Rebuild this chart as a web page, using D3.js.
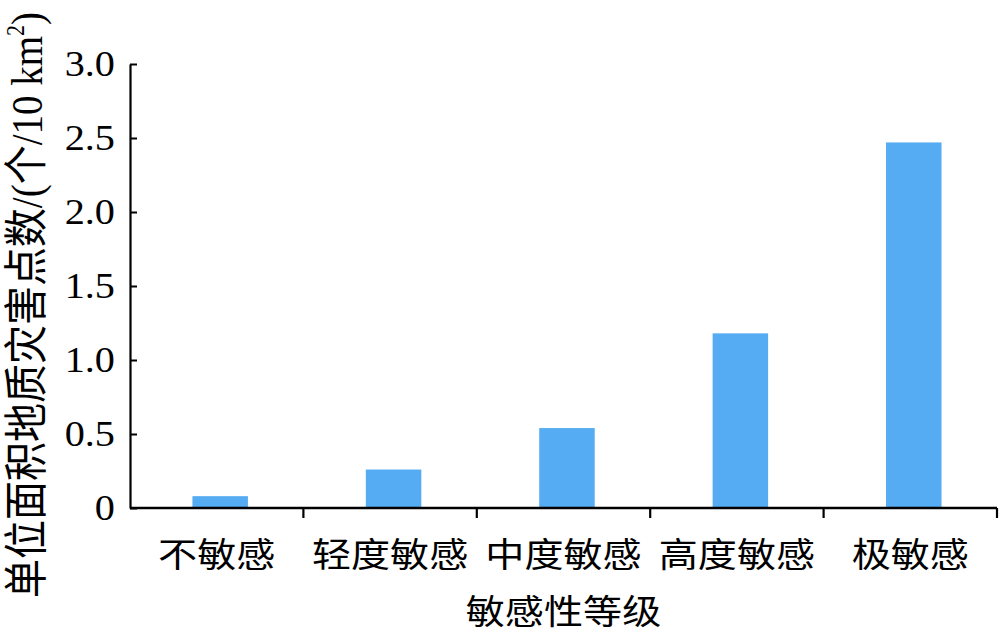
<!DOCTYPE html>
<html><head><meta charset="utf-8">
<script src="https://cdn.jsdelivr.net/npm/d3@7"></script>
<style>body{margin:0;background:#fff}svg{display:block}</style>
</head><body>
<svg id="c" width="1000" height="634"></svg>
<script>
const categories = ["不敏感","轻度敏感","中度敏感","高度敏感","极敏感"];
const values = [0.08, 0.26, 0.54, 1.18, 2.47];
const yTicks = [0, 0.5, 1.0, 1.5, 2.0, 2.5, 3.0];
const xTitle = "敏感性等级";
const yTitleCJK = "单位面积地质灾害点数/(个/10 km";

const svg = d3.select("#c");
const L = 130, R = 997, T = 64, B = 508;
const x = d3.scaleBand().domain(categories).range([L, R]).paddingInner(0).paddingOuter(0);
const y = d3.scaleLinear().domain([0, 3]).range([B, T]);
const serif = "'Liberation Serif','Times New Roman',serif";
const cjk = "'Liberation Serif','Noto Sans CJK SC',serif";
const sx = 1.15;

// bars
svg.append("g").selectAll("rect").data(values).join("rect")
  .attr("x", (d,i) => x(categories[i]) + x.step()*0.36)
  .attr("width", x.step()*0.32)
  .attr("y", d => y(d))
  .attr("height", d => y(0) - y(d))
  .attr("fill", "#55acf2");

// y axis
const ya = svg.append("g").attr("transform", `translate(${L},0)`)
  .call(d3.axisLeft(y).tickValues(yTicks).tickSize(-7).tickSizeOuter(0).tickFormat(d => d === 0 ? "0" : d.toFixed(1)));
ya.select(".domain").attr("stroke", "#000").attr("stroke-width", 2.2);
ya.selectAll(".tick line").attr("stroke", "#000").attr("stroke-width", 2);
ya.selectAll(".tick text").attr("font-family", serif).attr("font-size", 35).attr("fill", "#000")
  .attr("x", 0).attr("dy", "0.34em")
  .attr("transform", `translate(-15,0) scale(${sx},1)`);

// x axis baseline
svg.append("line").attr("x1", L).attr("x2", R).attr("y1", B).attr("y2", B)
  .attr("stroke", "#000").attr("stroke-width", 2.4);
// x ticks at band boundaries
const bounds = categories.map(c => x(c) + x.step()).filter(v => v > L);
svg.append("g").selectAll("line").data(bounds).join("line")
  .attr("x1", d => d).attr("x2", d => d).attr("y1", B).attr("y2", B + 10)
  .attr("stroke", "#000").attr("stroke-width", 2.2);

// category labels
svg.append("g").selectAll("text").data(categories).join("text")
  .attr("transform", c => `translate(${x(c) + x.step()*0.5},${555}) scale(${sx},1)`)
  .attr("text-anchor", "middle").attr("dominant-baseline", "central")
  .attr("font-family", cjk).attr("font-size", 34).attr("fill", "#000")
  .text(c => c);

// x title
svg.append("text")
  .attr("transform", `translate(${(L+R)/2},${612}) scale(${sx},1)`)
  .attr("text-anchor", "middle").attr("dominant-baseline", "central")
  .attr("font-family", cjk).attr("font-size", 34).attr("fill", "#000")
  .text(xTitle);

// y title
const yt = svg.append("text")
  .attr("transform", `translate(27,305) rotate(-90) scale(1,${sx})`)
  .attr("text-anchor", "middle").attr("dominant-baseline", "central")
  .attr("font-family", cjk).attr("font-size", 39).attr("fill", "#000");
yt.append("tspan").text(yTitleCJK);
yt.append("tspan").attr("font-size", 22).attr("dy", "-0.45em").text("2");
yt.append("tspan").attr("dy", "0.25em").text(")");
</script>
</body></html>
